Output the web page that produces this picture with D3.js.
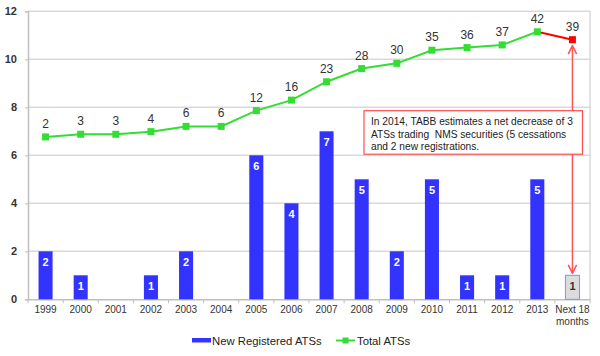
<!DOCTYPE html>
<html><head><meta charset="utf-8">
<script src="https://cdn.jsdelivr.net/npm/d3@7"></script>
<style>body{margin:0;background:#fff}svg{display:block}text{font-family:"Liberation Sans",Arial,sans-serif}</style>
</head><body><svg id="c" width="600" height="356"></svg>
<script>
const categories = ["1999","2000","2001","2002","2003","2004","2005","2006","2007","2008","2009","2010","2011","2012","2013","Next 18 months"];
const newATS = [2,1,0,1,2,0,6,4,7,5,2,5,1,1,5,1];
const totalATS = [2,3,3,4,6,6,12,16,23,28,30,35,36,37,42,39];
const yTicks = [0,2,4,6,8,10,12];
const noteLines = ["In 2014, TABB estimates a net decrease of 3","ATSs trading  NMS securities (5 cessations","and 2 new registrations."];

const svg = d3.select("#c");
const L=28, R=590, T=11.3, B=299.3;
const x = d3.scaleBand().domain(categories).range([L,R]).paddingInner(0.6).paddingOuter(0.3);
const y = d3.scaleLinear().domain([0,12]).range([B,T]);
const y2 = d3.scaleLinear().domain([-59.8,49.8]).range([B,T]);
const cx = d => x(d)+x.bandwidth()/2;

// gridlines
svg.append("g").selectAll("line").data(yTicks.filter(d=>d>0)).join("line")
  .attr("x1",L).attr("x2",R).attr("y1",d=>y(d)).attr("y2",d=>y(d))
  .attr("stroke","#d9d9d9").attr("stroke-width",1.5);
// right border
svg.append("line").attr("x1",R).attr("x2",R).attr("y1",T).attr("y2",B).attr("stroke","#d9d9d9").attr("stroke-width",1.5);

// y axis
const ya = svg.append("g").attr("transform",`translate(${L},0)`)
  .call(d3.axisLeft(y).tickValues(yTicks).tickSize(3).tickPadding(8));
ya.select(".domain").attr("stroke","#bfbfbf").attr("stroke-width",1.5);
ya.selectAll(".tick line").attr("stroke","#bfbfbf");
ya.selectAll("text").attr("font-size",11).attr("fill","#333").attr("font-weight","bold").attr("font-family","Liberation Sans, Arial, sans-serif");

// x axis
const xa = svg.append("g").attr("transform",`translate(0,${B})`)
  .call(d3.axisBottom(x).tickSize(0).tickFormat(""));
xa.select(".domain").attr("stroke","#bfbfbf").attr("stroke-width",1.5);
const step = x.step();
svg.append("g").selectAll("line").data(d3.range(categories.length+1)).join("line")
  .attr("x1",i=>L+i*step).attr("x2",i=>L+i*step).attr("y1",B).attr("y2",B+4)
  .attr("stroke","#bfbfbf");
const xl = svg.append("g").selectAll("text").data(categories).join("text")
  .attr("x",d=>cx(d)).attr("y",313).attr("text-anchor","middle")
  .attr("font-size",10).attr("fill","#333");
xl.each(function(d){
  const t=d3.select(this);
  if(d==="Next 18 months"){
    t.append("tspan").attr("x",cx(d)).attr("dy",0).text("Next 18");
    t.append("tspan").attr("x",cx(d)).attr("dy",12).text("months");
  } else t.text(d);
});

// bars
const last = categories[categories.length-1];
svg.append("g").selectAll("rect").data(categories).join("rect")
  .attr("x",d=>x(d)).attr("width",x.bandwidth())
  .attr("y",(d,i)=>y(newATS[i])).attr("height",(d,i)=>B-y(newATS[i]))
  .attr("fill",d=>d===last?"#dcdcdc":"#3333ff")
  .attr("stroke",d=>d===last?"#8a8aff":"none").attr("stroke-width",1);
svg.append("g").selectAll("text").data(categories.filter((d,i)=>newATS[i]>0)).join("text")
  .attr("x",d=>cx(d)).attr("y",d=>y(newATS[categories.indexOf(d)])+15)
  .attr("text-anchor","middle").attr("font-size",11).attr("font-weight","bold")
  .attr("fill",d=>d===last?"#333":"#fff")
  .text(d=>newATS[categories.indexOf(d)]);

// line
const pts = categories.map((d,i)=>[cx(d),y2(totalATS[i])]);
svg.append("path").attr("d",d3.line()(pts.slice(0,-1))).attr("fill","none").attr("stroke","#33dd33").attr("stroke-width",2);
svg.append("path").attr("d",d3.line()(pts.slice(-2))).attr("fill","none").attr("stroke","#ff0000").attr("stroke-width",2);
svg.append("g").selectAll("rect").data(pts).join("rect")
  .attr("x",p=>p[0]-3.5).attr("y",p=>p[1]-3.5).attr("width",7).attr("height",7)
  .attr("fill",(p,i)=>i===pts.length-1?"#ff0000":"#33dd33");
svg.append("g").selectAll("text").data(pts).join("text")
  .attr("x",p=>p[0]).attr("y",p=>p[1]-9).attr("text-anchor","middle")
  .attr("font-size",12).attr("fill","#333").text((p,i)=>totalATS[i]);

// arrow
const ax = cx(last);
const defs = svg.append("defs");
defs.append("marker").attr("id","ah").attr("viewBox","0 0 10 10").attr("refX",9).attr("refY",5)
  .attr("markerWidth",7).attr("markerHeight",7).attr("orient","auto-start-reverse")
  .append("path").attr("d","M1,1 L9,5 L1,9").attr("fill","none").attr("stroke","#ff5555").attr("stroke-width",1.5);
svg.append("line").attr("x1",ax).attr("x2",ax).attr("y1",y2(totalATS[15])+6).attr("y2",y(newATS[15])-2)
  .attr("stroke","#ff5555").attr("stroke-width",1.5)
  .attr("marker-start","url(#ah)").attr("marker-end","url(#ah)");

// note box
svg.append("rect").attr("x",364).attr("y",110.7).attr("width",218.5).attr("height",43.5)
  .attr("fill","#fff").attr("stroke","#ff4d4d").attr("stroke-width",1.2);
svg.append("g").selectAll("text").data(noteLines).join("text")
  .attr("x",371).attr("y",(d,i)=>125+i*12.6).attr("font-size",10.2).attr("fill","#222")
  .attr("xml:space","preserve").style("white-space","pre").text(d=>d);

// legend
svg.append("rect").attr("x",192).attr("y",338).attr("width",19).attr("height",4.5).attr("fill","#3333ff");
svg.append("text").attr("x",212).attr("y",345).attr("font-size",11.3).attr("fill","#222").text("New Registered ATSs");
svg.append("line").attr("x1",336).attr("x2",355).attr("y1",340.5).attr("y2",340.5).attr("stroke","#33dd33").attr("stroke-width",2);
svg.append("rect").attr("x",342.5).attr("y",337.5).attr("width",6).attr("height",6).attr("fill","#33dd33");
svg.append("text").attr("x",357).attr("y",345).attr("font-size",11.3).attr("fill","#222").text("Total ATSs");
</script></body></html>
